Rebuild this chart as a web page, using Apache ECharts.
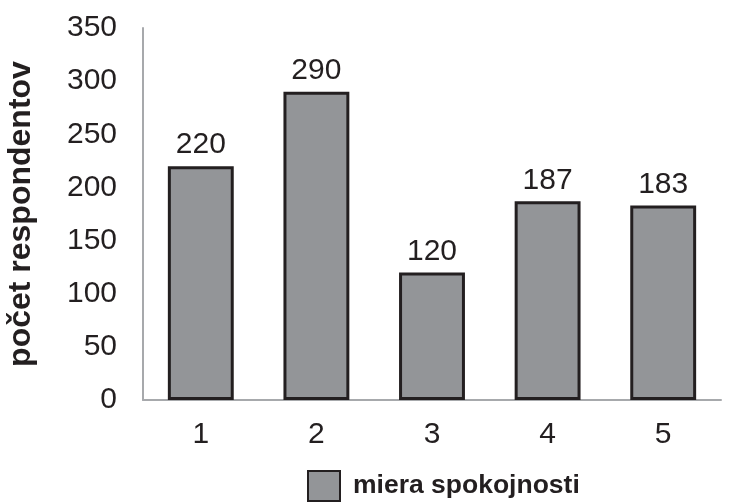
<!DOCTYPE html>
<html>
<head>
<meta charset="utf-8">
<script src="https://cdn.jsdelivr.net/npm/echarts@6/dist/echarts.min.js"></script>
<style>
  html, body { margin: 0; padding: 0; background: #ffffff; }
  #chart { width: 736px; height: 502px; }
</style>
</head>
<body>
<div id="chart"></div>
<script>
// Satisfaction level categories and respondent counts
const categories = ['1', '2', '3', '4', '5'];
const respondents = [220, 290, 120, 187, 183];
const seriesName = 'miera spokojnosti';
const yAxisTitle = 'počet respondentov';

const textColor = '#231f20';
const fontFamily = 'Liberation Sans, Arial, sans-serif';

const chart = echarts.init(document.getElementById('chart'));
chart.setOption({
  backgroundColor: '#ffffff',
  animation: false,
  grid: { left: 143, right: 15, top: 28, bottom: 102, containLabel: false, outerBoundsMode: 'none' },
  legend: {
    data: [seriesName],
    left: 302,
    bottom: -5,
    icon: 'rect',
    itemWidth: 32,
    itemHeight: 30,
    textStyle: {
      color: textColor, fontSize: 26.5, fontWeight: 'bold', fontFamily: fontFamily,
      padding: [0, 0, 0, 8]
    }
  },
  xAxis: {
    type: 'category',
    data: categories,
    axisLine: { lineStyle: { color: '#a7a9ac', width: 2 } },
    axisTick: { show: false },
    axisLabel: { color: textColor, fontSize: 30, fontFamily: fontFamily, margin: 20 }
  },
  yAxis: {
    type: 'value',
    min: 0,
    max: 350,
    interval: 50,
    name: yAxisTitle,
    nameLocation: 'middle',
    nameRotate: 90,
    nameGap: 106,
    nameTextStyle: { color: textColor, fontSize: 32, fontWeight: 'bold', fontFamily: fontFamily },
    axisLine: { show: true, lineStyle: { color: '#a7a9ac', width: 2 } },
    axisTick: { show: false },
    splitLine: { show: false },
    axisLabel: { color: textColor, fontSize: 30, fontFamily: fontFamily, margin: 26 }
  },
  series: [{
    name: seriesName,
    type: 'bar',
    data: respondents,
    barWidth: '57%',
    itemStyle: { color: '#939598', borderColor: textColor, borderWidth: 3 },
    label: {
      show: true,
      position: 'top',
      distance: 6,
      color: textColor,
      fontSize: 30,
      fontFamily: fontFamily
    }
  }]
});
</script>
</body>
</html>
